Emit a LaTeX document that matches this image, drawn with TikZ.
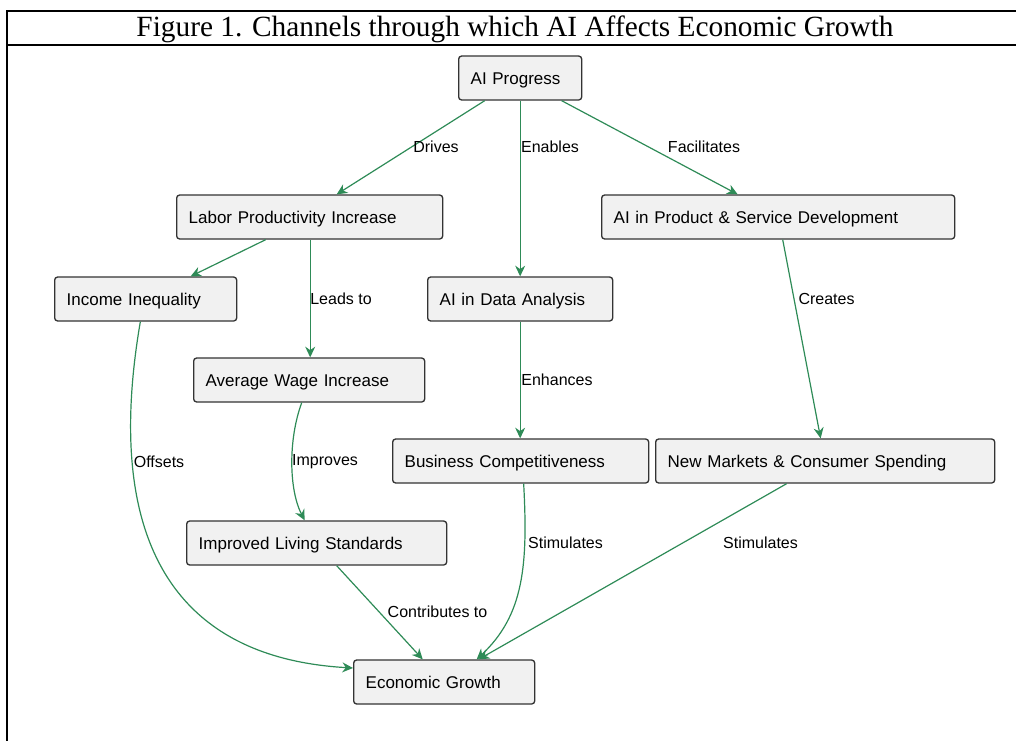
\documentclass[tikz,border=0pt]{standalone}
\usepackage{fontspec}
\setmainfont{Liberation Serif}
\newfontfamily\diagfont{Liberation Sans}
\usetikzlibrary{arrows.meta}
\definecolor{edgegreen}{RGB}{46,139,87}
\definecolor{boxfill}{RGB}{241,241,241}
\definecolor{boxline}{RGB}{51,51,51}
\tikzset{
  nbox/.style={draw=boxline, fill=boxfill, line width=1pt, rounded corners=2.25pt,
    minimum height=33pt, inner xsep=9pt, inner ysep=0pt, align=left,
    execute at begin node={\rule[-3pt]{0pt}{15.4pt}},
    font=\diagfont\fontsize{12.75}{14}\selectfont, anchor=west},
  flow/.style={draw=edgegreen, line width=0.9pt,
    -{Stealth[length=8pt, width=7.5pt, inset=2.6pt]}},
  elabel/.style={font=\diagfont\fontsize{12}{14}\selectfont, inner sep=0pt},
  frame/.style={line width=1.5pt, draw=black}
}
\begin{document}
\begin{tikzpicture}[x=0.75pt, y=-0.75pt]
\useasboundingbox (0,0) rectangle (1016,740);
\begin{scope}
\clip (0,0) rectangle (1016,740);
% figure frame with its title bar
\draw[frame] (7,11) rectangle (1023,760);
\draw[frame] (7,45) -- (1023,45);
\end{scope}
\node[font=\fontsize{22}{24}\selectfont, inner sep=0pt] (title) at (515,29)
  {Figure 1. Channels through which AI Affects Economic Growth};

% boxes
\node[nbox, text width=74.25pt]  (ai)    at (458,78)  {AI Progress};
\node[nbox, text width=181.5pt]  (labor) at (176,217) {Labor Productivity Increase};
\node[nbox, text width=246.75pt] (prod)  at (601,217) {AI in Product \& Service Development};
\node[nbox, text width=118.5pt]  (ineq)  at (54,299)  {Income Inequality};
\node[nbox, text width=120.75pt] (data)  at (427,299) {AI in Data Analysis};
\node[nbox, text width=155.25pt] (wage)  at (193,380) {Average Wage Increase};
\node[nbox, text width=174pt]    (comp)  at (392,461) {Business Competitiveness};
\node[nbox, text width=236.25pt] (mkt)   at (655,461) {New Markets \& Consumer Spending};
\node[nbox, text width=177pt]    (live)  at (186,543) {Improved Living Standards};
\node[nbox, text width=117.75pt] (eco)   at (353,682) {Economic Growth};

% connectors
\draw[flow] ([xshift=-26.6pt]ai.south) -- ([xshift=20.25pt]labor.north);
\draw[flow] (ai.south) -- (data.north);
\draw[flow] ([xshift=31.1pt]ai.south) -- ([xshift=-30.4pt]prod.north);
\draw[flow] ([xshift=-33pt]labor.south) -- ([xshift=33.75pt]ineq.north);
\draw[flow] ([xshift=0.4pt]labor.south) -- ([xshift=0.4pt]labor.south |- wage.north);
\draw[flow] ([xshift=3.4pt]prod.south) -- ([xshift=-3.4pt]mkt.north);
\draw[flow] (data.south) -- (data.south |- comp.north);
\draw[flow] ([xshift=-5.6pt]wage.south) .. controls (288,440) and (289,490) .. ([xshift=-9pt]live.north);
\draw[flow] ([xshift=-4pt]ineq.south) .. controls (102,545) and (178,658) .. ([yshift=10.5pt]eco.west);
\draw[flow] ([xshift=15pt]live.south) -- ([xshift=-16.1pt]eco.north);
\draw[flow] ([xshift=2.25pt]comp.south) .. controls (528,565) and (524,615) .. ([xshift=24.4pt]eco.north);
\draw[flow] ([xshift=-28.9pt]mkt.south) -- ([xshift=25.9pt]eco.north);

% connector labels
\node[elabel] (lDrives)  at (436,147)   {Drives};
\node[elabel] (lEnables) at (550,147)   {Enables};
\node[elabel] (lFacil)   at (704,147)   {Facilitates};
\node[elabel] (lLeads)   at (341,299)   {Leads to};
\node[elabel] (lCreates) at (826.5,299) {Creates};
\node[elabel] (lEnh)     at (557,380)   {Enhances};
\node[elabel] (lOffsets) at (159,462)   {Offsets};
\node[elabel] (lImpr)    at (325,462)   {Improves};
\node[elabel] (lStimA)   at (565.5,543) {Stimulates};
\node[elabel] (lStimB)   at (760.5,543) {Stimulates};
\node[elabel] (lContrib) at (437.5,612) {Contributes to};
\end{tikzpicture}
\end{document}
